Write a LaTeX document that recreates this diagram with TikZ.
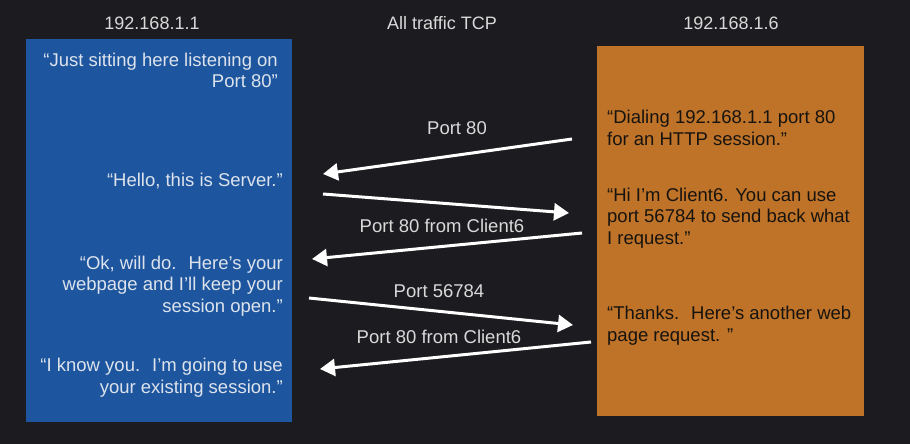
\documentclass[tikz,border=0pt]{standalone}
\usepackage{fontspec}
\setmainfont{Liberation Sans}
\usetikzlibrary{arrows.meta}
\definecolor{bgc}{HTML}{1C1B1F}
\definecolor{srvblue}{HTML}{1D559E}
\definecolor{cliorange}{HTML}{BE7329}
\definecolor{lighttxt}{HTML}{DDE3EC}
\definecolor{titletxt}{HTML}{D9D9D9}
\definecolor{darktxt}{HTML}{17130F}
\tikzset{
  bodytxt/.style={font=\fontsize{18.5}{21.5}\selectfont, inner sep=0pt},
  srvtxt/.style={bodytxt, text=lighttxt, align=right, anchor=base east},
  clitxt/.style={bodytxt, text=darktxt, align=left, anchor=base west},
  titlelbl/.style={font=\fontsize{18}{21}\selectfont, text=titletxt, inner sep=0pt, anchor=base},
  portlbl/.style={bodytxt, text=titletxt, anchor=base},
  chalkarrow/.style={draw=white, line width=3pt, -{Triangle[length=15pt,width=17pt]}},
}
\begin{document}
\begin{tikzpicture}[x=1pt,y=-1pt]
\fill[bgc] (0,0) rectangle (910,444);
\useasboundingbox (0,0) rectangle (910,444);
% boxes
\fill[srvblue] (26,39) rectangle (292,422);
\fill[cliorange] (597,46) rectangle (864,416);
% titles
\node[titlelbl] (t1) at (152,30) {192.168.1.1};
\node[titlelbl] (t2) at (442,30) {All traffic TCP};
\node[titlelbl] (t3) at (731,30) {192.168.1.6};
% server texts (anchor = baseline of last line)
\node[srvtxt] (s1) at (278,88) {“Just sitting here listening on\\Port 80”};
\node[srvtxt] (s2) at (283,186) {“Hello, this is Server.”};
\node[srvtxt] (s3) at (283,312) {“Ok, will do.~ Here’s your\\webpage and I’ll keep your\\session open.”};
\node[srvtxt] (s4) at (283,393) {“I know you.~ I’m going to use\\your existing session.”};
% client texts
\node[clitxt] (c1) at (607,145) {“Dialing 192.168.1.1 port 80\\for an HTTP session.”};
\node[clitxt] (c2) at (607,244) {“Hi I’m Client6. You can use\\port 56784 to send back what\\I request.”};
\node[clitxt] (c3) at (607,341) {“Thanks.~ Here’s another web\\page request. ”};
% port labels
\node[portlbl] (p1) at (457,134) {Port 80};
\node[portlbl] (p2) at (442,232) {Port 80 from Client6};
\node[portlbl] (p3) at (439,297) {Port 56784};
\node[portlbl] (p4) at (439,343) {Port 80 from Client6};
% arrow end points
\coordinate (a1s) at (572,139); \coordinate (a1e) at (323,174);
\coordinate (a2s) at (323,194); \coordinate (a2e) at (569,213);
\coordinate (a3s) at (582,233); \coordinate (a3e) at (312,259);
\coordinate (a4s) at (309,298); \coordinate (a4e) at (573,325);
\coordinate (a5s) at (591,342); \coordinate (a5e) at (320,369);
\draw[chalkarrow] (a1s) -- (a1e);
\draw[chalkarrow] (a2s) -- (a2e);
\draw[chalkarrow] (a3s) -- (a3e);
\draw[chalkarrow] (a4s) -- (a4e);
\draw[chalkarrow] (a5s) -- (a5e);
\end{tikzpicture}
\end{document}
